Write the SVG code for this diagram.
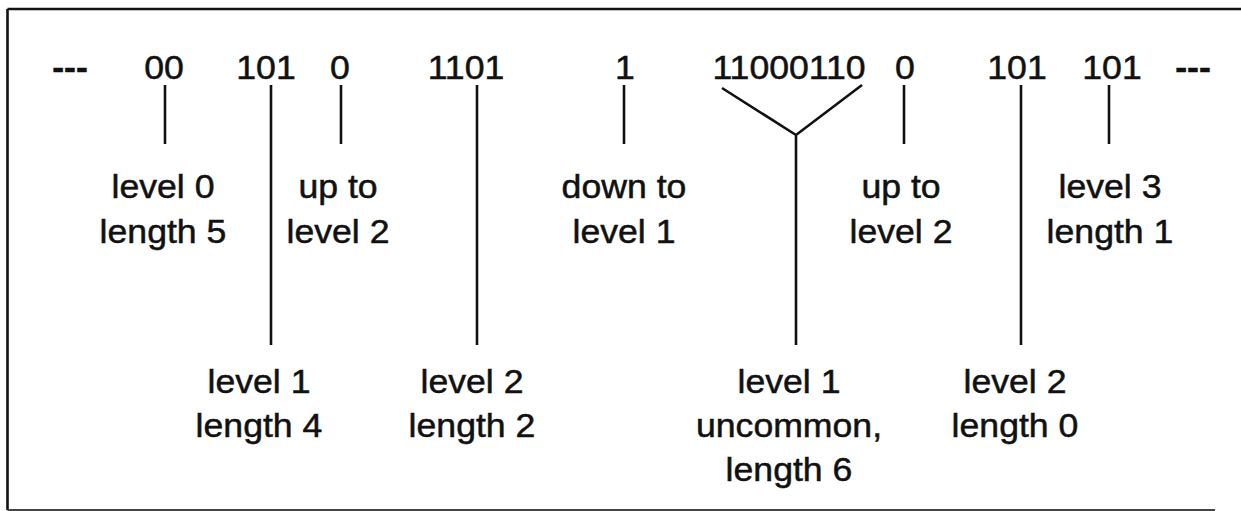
<svg xmlns="http://www.w3.org/2000/svg" width="1241" height="511" viewBox="0 0 1241 511">
  <style>
    .t { font-family: "Liberation Sans", Arial, Helvetica, sans-serif; font-size: 33px; fill: #111; stroke: #111; stroke-width: 0.5; text-anchor: middle; }
    .dash { font-weight: bold; }
    .ln { stroke: #111; stroke-width: 2.6; fill: none; stroke-linecap: butt; }
    .frame { stroke: #111; stroke-width: 2.6; fill: none; }
    .frame-b { stroke: #444; stroke-width: 2; fill: none; }
  </style>

  <rect x="0" y="0" width="1241" height="511" fill="#fff"/>

  <!-- frame: top and left edges, faint bottom edge -->
  <g id="frame">
    <path class="frame" d="M7.5 9 L1241 9 M7.5 9 L7.5 510"/>
    <path class="frame-b" d="M7.5 510 L1215 510"/>
  </g>

  <!-- bit stream -->
  <g id="stream-start"><text class="t dash" transform="translate(70,79) scale(1.08,1)">---</text></g>
  <g id="bits-00"><text class="t" transform="translate(164,79) scale(1.08,1)">00</text></g>
  <g id="bits-101a"><text class="t" transform="translate(266,79) scale(1.08,1)">101</text></g>
  <g id="bits-0a"><text class="t" transform="translate(340,79) scale(1.08,1)">0</text></g>
  <g id="bits-1101"><text class="t" transform="translate(466,79) scale(1.08,1)">1101</text></g>
  <g id="bits-1"><text class="t" transform="translate(625,79) scale(1.08,1)">1</text></g>
  <g id="bits-11000110"><text class="t" transform="translate(789,79) scale(1.08,1)">11000110</text></g>
  <g id="bits-0b"><text class="t" transform="translate(905,79) scale(1.08,1)">0</text></g>
  <g id="bits-101b"><text class="t" transform="translate(1017,79) scale(1.08,1)">101</text></g>
  <g id="bits-101c"><text class="t" transform="translate(1112,79) scale(1.08,1)">101</text></g>
  <g id="stream-end"><text class="t dash" transform="translate(1193,79) scale(1.08,1)">---</text></g>

  <!-- upper labels -->
  <g id="lbl-level0"><text class="t" transform="translate(163,198) scale(1.08,1)"><tspan x="0">level 0</tspan><tspan x="0" dy="45">length 5</tspan></text></g>
  <g id="lbl-up2a"><text class="t" transform="translate(338,198) scale(1.08,1)"><tspan x="0">up to</tspan><tspan x="0" dy="45">level 2</tspan></text></g>
  <g id="lbl-down1"><text class="t" transform="translate(624,198) scale(1.08,1)"><tspan x="0">down to</tspan><tspan x="0" dy="45">level 1</tspan></text></g>
  <g id="lbl-up2b"><text class="t" transform="translate(901,198) scale(1.08,1)"><tspan x="0">up to</tspan><tspan x="0" dy="45">level 2</tspan></text></g>
  <g id="lbl-level3"><text class="t" transform="translate(1110,198) scale(1.08,1)"><tspan x="0">level 3</tspan><tspan x="0" dy="45">length 1</tspan></text></g>

  <!-- lower labels -->
  <g id="lbl-level1"><text class="t" transform="translate(259,393) scale(1.08,1)"><tspan x="0">level 1</tspan><tspan x="0" dy="44">length 4</tspan></text></g>
  <g id="lbl-level2a"><text class="t" transform="translate(472,393) scale(1.08,1)"><tspan x="0">level 2</tspan><tspan x="0" dy="44">length 2</tspan></text></g>
  <g id="lbl-level1u"><text class="t" transform="translate(789,393) scale(1.08,1)"><tspan x="0">level 1</tspan><tspan x="0" dy="44">uncommon,</tspan><tspan x="0" dy="44">length 6</tspan></text></g>
  <g id="lbl-level2b"><text class="t" transform="translate(1015,393) scale(1.08,1)"><tspan x="0">level 2</tspan><tspan x="0" dy="44">length 0</tspan></text></g>

  <!-- connectors -->
  <g id="connectors">
    <line class="ln" x1="165" y1="85" x2="165" y2="144"/>
    <line class="ln" x1="271" y1="85" x2="271" y2="345"/>
    <line class="ln" x1="341" y1="85" x2="341" y2="144"/>
    <line class="ln" x1="477" y1="85" x2="477" y2="345"/>
    <line class="ln" x1="624" y1="85" x2="624" y2="144"/>
    <path class="ln" d="M722 88 L796 135 L862 85 M796 135 L796 345"/>
    <line class="ln" x1="904" y1="85" x2="904" y2="144"/>
    <line class="ln" x1="1021" y1="85" x2="1021" y2="345"/>
    <line class="ln" x1="1109" y1="85" x2="1109" y2="144"/>
  </g>
</svg>
